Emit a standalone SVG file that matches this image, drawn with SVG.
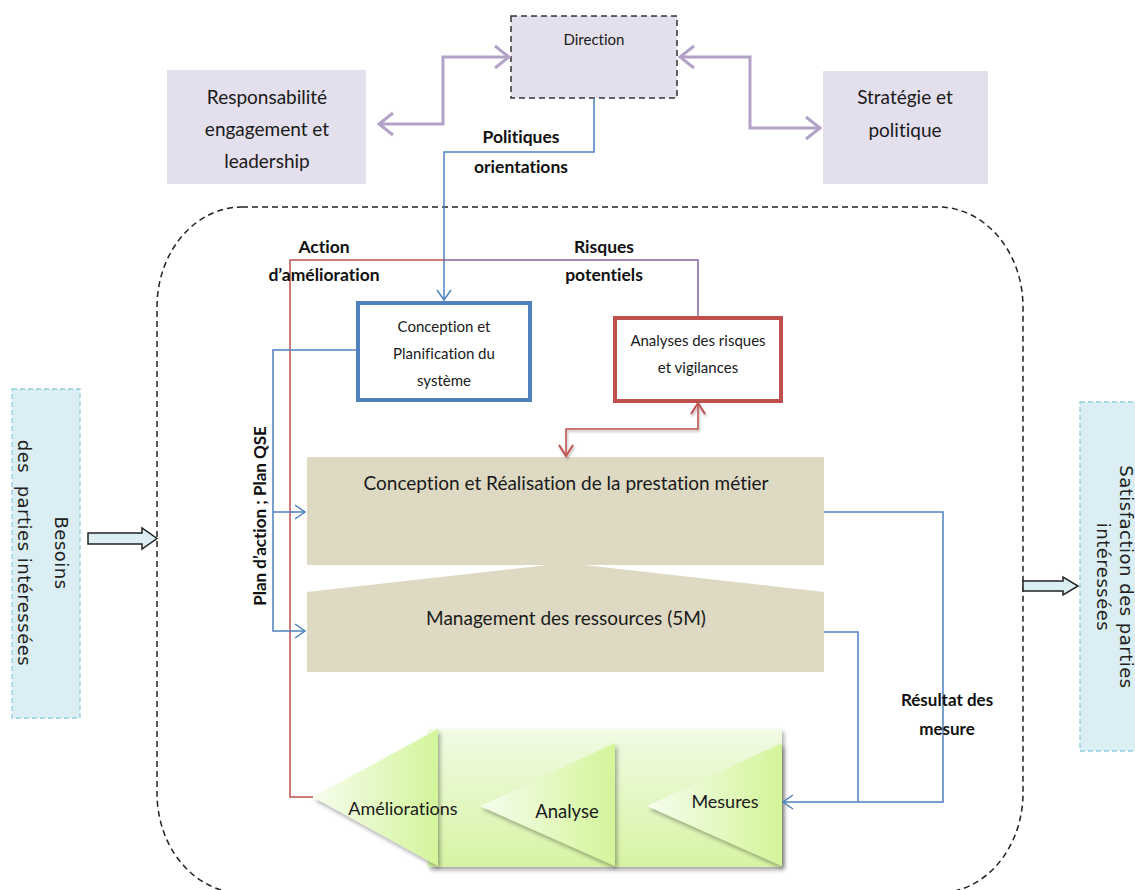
<svg xmlns="http://www.w3.org/2000/svg" width="1135" height="890" viewBox="0 0 1135 890">
  <style>
    text { font-variant-ligatures: none; font-feature-settings: "liga" 0, "clig" 0; }
    .lbl { font-family: Lato, "Liberation Sans", sans-serif; fill: #1a1a1a; text-anchor: middle; }
    .bold { font-family: Lato, "Liberation Sans", sans-serif; font-weight: bold; fill: #111; text-anchor: middle; }
    .side { font-family: "DejaVu Sans", Verdana, sans-serif; fill: #222; text-anchor: middle; white-space: pre; letter-spacing: 0.5px; }
    .purple { fill: #e4dfec; }
    .beige { fill: #ddd9c3; }
    .sidebox { fill: #daeef3; stroke: #93cddd; stroke-width: 1.3; stroke-dasharray: 5 3; }
    .blockarrow { fill: #daeef3; stroke: #222; stroke-width: 1.5; }
    .c-purple { fill: none; stroke: #b3a2c7; stroke-width: 3; }
    .c-blue { fill: none; stroke: #4f81bd; stroke-width: 1.5; }
    .c-red { fill: none; stroke: #c0504d; stroke-width: 1.5; }
    .c-violet { fill: none; stroke: #8064a2; stroke-width: 1.5; }
  </style>
  <defs>
    <marker id="mPurple" markerUnits="userSpaceOnUse" viewBox="-16 -13 19 26" refX="0" refY="0" markerWidth="19" markerHeight="26" orient="auto-start-reverse">
      <path d="M-14,-11 L0,0 L-14,11" fill="none" stroke="#b3a2c7" stroke-width="3" stroke-linejoin="miter"/>
    </marker>
    <marker id="mBlue" markerUnits="userSpaceOnUse" viewBox="-12 -9 14 18" refX="0" refY="0" markerWidth="14" markerHeight="18" orient="auto-start-reverse">
      <path d="M-10,-7 L0,0 L-10,7" fill="none" stroke="#4f81bd" stroke-width="1.5"/>
    </marker>
    <marker id="mRed" markerUnits="userSpaceOnUse" viewBox="-12 -9 14 18" refX="0" refY="0" markerWidth="14" markerHeight="18" orient="auto-start-reverse">
      <path d="M-11,-7 L0,0 L-11,7" fill="none" stroke="#c0504d" stroke-width="2"/>
    </marker>
    <filter id="shadow" x="-10%" y="-10%" width="125%" height="130%">
      <feDropShadow dx="2" dy="3" stdDeviation="2" flood-color="#000" flood-opacity="0.35"/>
    </filter>
    <filter id="softShadow" x="-20%" y="-20%" width="140%" height="140%">
      <feDropShadow dx="1" dy="2" stdDeviation="1.2" flood-color="#000" flood-opacity="0.3"/>
    </filter>
    <linearGradient id="gRect" x1="0" y1="0" x2="0" y2="1">
      <stop offset="0" stop-color="#f1fbe4"/>
      <stop offset="1" stop-color="#d6f4a4"/>
    </linearGradient>
    <linearGradient id="gTri" x1="0" y1="0" x2="1" y2="0">
      <stop offset="0" stop-color="#f6fdee"/>
      <stop offset="1" stop-color="#d3f59a"/>
    </linearGradient>
  </defs>

  <!-- process boundary -->
  <rect id="boundary" x="157" y="207" width="866" height="686" rx="85" ry="100" fill="none" stroke="#222" stroke-width="1.5" stroke-dasharray="6 4"/>

  <!-- top row -->
  <g id="direction">
    <rect x="511" y="16" width="166" height="82" class="purple" stroke="#333" stroke-width="1.5" stroke-dasharray="6 4"/>
    <text x="594" y="45" class="lbl" font-size="15">Direction</text>
  </g>
  <g id="responsabilite">
    <rect x="167" y="70" width="199" height="114" class="purple"/>
    <text class="lbl" font-size="19"><tspan x="267" y="104">Responsabilité</tspan><tspan x="267" y="136">engagement et</tspan><tspan x="267" y="168">leadership</tspan></text>
  </g>
  <g id="strategie">
    <rect x="823" y="71" width="165" height="113" class="purple"/>
    <text class="lbl" font-size="19"><tspan x="905" y="104">Stratégie et</tspan><tspan x="905" y="137">politique</tspan></text>
  </g>

  <!-- inner process -->
  <g id="conception-planification">
    <rect x="358" y="303" width="172" height="97" fill="#fff" stroke="#4f81bd" stroke-width="4"/>
    <text class="lbl" font-size="15"><tspan x="444" y="332">Conception et</tspan><tspan x="444" y="359">Planification du</tspan><tspan x="444" y="386">système</tspan></text>
  </g>
  <g id="analyses-risques">
    <rect x="615" y="318" width="166" height="83" fill="#fff" stroke="#c0504d" stroke-width="4"/>
    <text class="lbl" font-size="15"><tspan x="698" y="346">Analyses des risques</tspan><tspan x="698" y="373">et vigilances</tspan></text>
  </g>
  <g id="realisation">
    <rect x="307" y="457" width="517" height="108" class="beige"/>
    <text x="566" y="490" class="lbl" font-size="19">Conception et Réalisation de la prestation métier</text>
  </g>
  <g id="ressources">
    <path d="M307,592 L548,565 L584,565 L824,592 L824,672 L307,672 Z" class="beige"/>
    <text x="566" y="625" class="lbl" font-size="19">Management des ressources (5M)</text>
  </g>

  <!-- improvement cycle -->
  <g id="cycle">
    <rect x="428" y="729" width="354" height="138" fill="url(#gRect)" filter="url(#shadow)"/>
    <path d="M313,797 L438,729 L438,866 Z" fill="url(#gTri)" filter="url(#shadow)"/>
    <path d="M480,806 L615,743 L615,866 Z" fill="url(#gTri)" filter="url(#shadow)"/>
    <path d="M647,806 L782,743 L782,866 Z" fill="url(#gTri)" filter="url(#shadow)"/>
    <text x="403" y="815" class="lbl" font-size="18">Améliorations</text>
    <text x="567" y="818" class="lbl" font-size="18.5">Analyse</text>
    <text x="725" y="808" class="lbl" font-size="18">Mesures</text>
  </g>

  <!-- stakeholders -->
  <g id="besoins">
    <rect x="12" y="389" width="68" height="329" class="sidebox"/>
    <text class="side" font-size="18" transform="translate(55,553) rotate(90)"><tspan x="0" y="0">Besoins</tspan><tspan x="0" y="37">des  parties intéressées</tspan></text>
  </g>
  <g id="satisfaction">
    <rect x="1080" y="402" width="60" height="349" class="sidebox"/>
    <text class="side" font-size="18" transform="translate(1120,577) rotate(90)"><tspan x="0" y="0">Satisfaction des parties</tspan><tspan x="0" y="23">intéressées</tspan></text>
  </g>
  <g id="input-arrow">
    <path d="M88,533 H142 V528 L157,538.5 L142,549 V544 H88 Z" class="blockarrow"/>
  </g>
  <g id="output-arrow">
    <path d="M1023,581 H1063 V577 L1078,586 L1063,595 V591 H1023 Z" class="blockarrow"/>
  </g>

  <!-- connectors -->
  <g id="connectors">
    <path d="M379,124 H443 V57 H509" class="c-purple" marker-start="url(#mPurple)" marker-end="url(#mPurple)"/>
    <path d="M680,57 H750 V128 H820" class="c-purple" marker-start="url(#mPurple)" marker-end="url(#mPurple)"/>
    <path d="M594,98 V152 H444 V300" class="c-blue" marker-end="url(#mBlue)"/>
    <path d="M313,797 H290 V260 H444" class="c-red"/>
    <path d="M444,260 H698 V316" class="c-violet"/>
    <path d="M358,350 H273 V631 H305" class="c-blue" marker-end="url(#mBlue)"/>
    <path d="M273,512 H305" class="c-blue" marker-end="url(#mBlue)"/>
    <path d="M698,403 V429 H566 V456" class="c-red" stroke-width="2" marker-start="url(#mRed)" marker-end="url(#mRed)" filter="url(#softShadow)"/>
    <path d="M824,512 H943 V802 H783" class="c-blue" marker-end="url(#mBlue)"/>
    <path d="M824,632 H858 V802" class="c-blue"/>
  </g>

  <!-- connector labels -->
  <g id="labels">
    <text class="bold" font-size="17.5"><tspan x="521" y="143">Politiques</tspan><tspan x="521" y="173">orientations</tspan></text>
    <text class="bold" font-size="17.5"><tspan x="324" y="253">Action</tspan><tspan x="324" y="281">d’amélioration</tspan></text>
    <text class="bold" font-size="17.5"><tspan x="604" y="253">Risques</tspan><tspan x="604" y="281">potentiels</tspan></text>
    <text class="bold" font-size="17" transform="translate(266,516) rotate(-90)" x="0" y="0">Plan d’action ; Plan QSE</text>
    <text class="bold" font-size="17"><tspan x="947" y="706">Résultat des</tspan><tspan x="947" y="735">mesure</tspan></text>
  </g>
</svg>
